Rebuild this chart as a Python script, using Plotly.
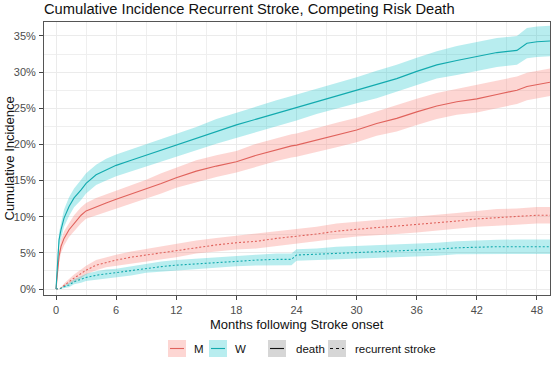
import plotly.graph_objects as go

# ---------------- data (values in %) ----------------
months = [0, 0.1, 0.3, 0.5, 0.8, 1.3, 1.8, 2.5, 3, 4, 5, 6, 7.5, 9, 10.5, 12, 14, 16, 18, 20,
          22, 23.5, 24, 26, 28, 30, 32, 34, 36, 38, 40, 42, 44, 46, 47, 48, 49.3]

w_death = [0, 3.0, 6.8, 8.2, 9.8, 11.4, 12.6, 13.7, 14.6, 15.8, 16.5, 17.1, 17.8, 18.5, 19.2,
           19.9, 20.8, 21.8, 22.7, 23.5, 24.3, 24.9, 25.1, 26.0, 26.8, 27.5, 28.3, 29.1, 30.1,
           31.0, 31.6, 32.1, 32.7, 33.0, 34.0, 34.2, 34.3]
m_death = [0, 2.0, 4.5, 5.9, 7.0, 8.2, 9.1, 10.2, 10.8, 11.4, 11.9, 12.4, 13.1, 13.8, 14.6,
           15.4, 16.3, 17.0, 17.6, 18.5, 19.3, 19.8, 19.9, 20.6, 21.3, 22.0, 22.9, 23.6, 24.5,
           25.3, 25.9, 26.3, 26.9, 27.5, 28.0, 28.3, 28.6]
m_stroke = [0, 0, 0, 0.15, 0.5, 1.0, 1.5, 2.1, 2.6, 3.3, 3.7, 4.0, 4.4, 4.7, 5.0, 5.3, 5.8,
            6.1, 6.4, 6.6, 7.0, 7.2, 7.3, 7.6, 8.0, 8.3, 8.5, 8.7, 8.9, 9.2, 9.4, 9.7, 9.9,
            10.0, 10.1, 10.2, 10.2]
w_stroke = [0, 0, 0, 0.1, 0.3, 0.55, 1.0, 1.3, 1.6, 1.9, 2.1, 2.2, 2.5, 2.9, 3.1, 3.3, 3.5,
            3.7, 3.9, 4.0, 4.1, 4.1, 4.7, 4.8, 5.0, 5.1, 5.2, 5.3, 5.4, 5.5, 5.7, 5.8, 5.85,
            5.85, 5.85, 5.85, 5.85]

# confidence band half-widths (%)
w_death_ci = [0, 0.6, 1.0, 1.1, 1.2, 1.3, 1.3, 1.4, 1.4, 1.4, 1.5, 1.5, 1.5, 1.5, 1.6, 1.6,
              1.6, 1.7, 1.7, 1.7, 1.8, 1.8, 1.8, 1.8, 1.8, 1.8, 1.9, 1.9, 1.9, 1.9, 2.0, 2.0,
              2.0, 2.0, 2.1, 2.1, 2.1]
m_death_ci = [0, 0.5, 0.8, 0.9, 1.0, 1.0, 1.1, 1.1, 1.1, 1.2, 1.2, 1.2, 1.3, 1.3, 1.4, 1.4,
              1.5, 1.5, 1.5, 1.6, 1.6, 1.6, 1.6, 1.7, 1.7, 1.7, 1.7, 1.8, 1.8, 1.8, 1.8, 1.9,
              1.9, 1.9, 1.9, 1.9, 1.9]
m_stroke_ci = [0, 0, 0, 0.1, 0.25, 0.4, 0.5, 0.6, 0.6, 0.7, 0.7, 0.75, 0.8, 0.85, 0.9, 0.9,
               0.9, 0.95, 0.95, 1.0, 1.0, 1.0, 1.0, 1.0, 1.05, 1.05, 1.05, 1.1, 1.1, 1.1, 1.1,
               1.1, 1.15, 1.15, 1.15, 1.15, 1.15]
w_stroke_ci = [0, 0, 0, 0.1, 0.2, 0.3, 0.35, 0.45, 0.5, 0.55, 0.6, 0.6, 0.65, 0.65, 0.7, 0.7,
               0.7, 0.75, 0.75, 0.75, 0.8, 0.8, 0.8, 0.8, 0.85, 0.85, 0.85, 0.9, 0.9, 0.9, 0.9,
               0.95, 0.95, 1.0, 1.0, 1.0, 1.0]

x_ticks = [0, 6, 12, 18, 24, 30, 36, 42, 48]
groups = ["M", "W"]
events = ["death", "recurrent stroke"]

# ---------------- styles ----------------
FONT = "Liberation Sans, Arial, Helvetica, sans-serif"
band_col = {"M": "rgba(248,118,109,0.30)", "W": "rgba(0,191,196,0.28)"}
line_col = {"M": "#E0625C", "W": "#12AAAE"}
dash_of = {"death": "solid", "recurrent stroke": "2px,2px"}

series = [
    ("M", "death", m_death, m_death_ci),
    ("W", "death", w_death, w_death_ci),
    ("M", "recurrent stroke", m_stroke, m_stroke_ci),
    ("W", "recurrent stroke", w_stroke, w_stroke_ci),
]

fig = go.Figure()

# bands
for g, ev, vals, ci in series:
    hi = [(v + c) / 100 for v, c in zip(vals, ci)]
    lo = [max(v - c, 0) / 100 for v, c in zip(vals, ci)]
    fig.add_trace(go.Scatter(
        x=months + months[::-1], y=hi + lo[::-1], fill="toself",
        fillcolor=band_col[g], line=dict(width=0), mode="lines",
        hoverinfo="skip", showlegend=False))

# lines
for g, ev, vals, ci in series:
    fig.add_trace(go.Scatter(
        x=months, y=[v / 100 for v in vals], mode="lines",
        line=dict(color=line_col[g], width=1.1, dash=dash_of[ev]),
        name=f"{g} {ev}", showlegend=False))

# ---------------- layout ----------------
L, R, T, B = 44, 550, 22, 295
W_, H_ = 555, 368
pw, ph = R - L, B - T


def px(x):
    return (x - L) / pw


def py(y):
    return (B - y) / ph


axis_common = dict(
    showgrid=True, gridcolor="#EBEBEB", gridwidth=1,
    zeroline=False, showline=True, mirror=True, linecolor="#555555", linewidth=1,
    ticks="outside", ticklen=4, tickcolor="#444444", tickwidth=1,
    tickfont=dict(family=FONT, size=11, color="#4D4D4D"),
)

fig.update_layout(
    width=W_, height=H_,
    margin=dict(l=L, r=W_ - R, t=T, b=H_ - B, pad=0),
    paper_bgcolor="white", plot_bgcolor="white",
    showlegend=False,
    title=dict(text="Cumulative Incidence Recurrent Stroke, Competing Risk Death",
               font=dict(family=FONT, size=14.7, color="#111111"),
               xref="paper", x=0, xanchor="left",
               yref="container", y=1 - 9 / H_, yanchor="middle"),
    xaxis=dict(range=[-1.2, 49.3], tickvals=x_ticks, ticklabelstandoff=1,
               minor=dict(dtick=3, tick0=0, showgrid=True, gridcolor="#EFEFEF", gridwidth=0.7),
               **axis_common),
    yaxis=dict(range=[-0.0083, 0.3693], tick0=0, dtick=0.05, tickformat=".0%",
               ticklabelstandoff=1,
               minor=dict(dtick=0.025, tick0=0, showgrid=True, gridcolor="#EFEFEF", gridwidth=0.7),
               **axis_common),
)

# axis titles
fig.add_annotation(text="Months following Stroke onset", xref="paper", yref="paper",
                   x=0.5, y=py(324), xanchor="center", yanchor="middle", showarrow=False,
                   font=dict(family=FONT, size=13, color="#111111"))
fig.add_annotation(text="Cumulative Incidence", xref="paper", yref="paper",
                   x=px(9), y=0.5, xanchor="center", yanchor="middle", showarrow=False,
                   textangle=-90, font=dict(family=FONT, size=13, color="#111111"))

# legend (manual, ggplot-like keys)
ly0, ly1 = 340, 357
lyc = (ly0 + ly1) / 2
keys = [
    (168, band_col["M"], line_col["M"], "solid", "M", 192),
    (209, band_col["W"], line_col["W"], "solid", "W", 232.5),
    (268, "#D6D6D6", "#111111", "solid", "death", 294),
    (328, "#D6D6D6", "#111111", "dot", "recurrent stroke", 353),
]
for x0, fillc, lc, dsh, label, tx in keys:
    fig.add_shape(type="rect", xref="paper", yref="paper",
                  x0=px(x0), x1=px(x0 + 18), y0=py(ly1), y1=py(ly0),
                  fillcolor=fillc, line=dict(width=0), layer="above")
    fig.add_shape(type="line", xref="paper", yref="paper",
                  x0=px(x0 + 2), x1=px(x0 + 16), y0=py(lyc), y1=py(lyc),
                  line=dict(color=lc, width=1.1, dash=dsh), layer="above")
    fig.add_annotation(text=label, xref="paper", yref="paper", x=px(tx), y=py(lyc),
                       xanchor="left", yanchor="middle", showarrow=False,
                       font=dict(family=FONT, size=11.5, color="#111111"))

fig.write_html("out.html")
